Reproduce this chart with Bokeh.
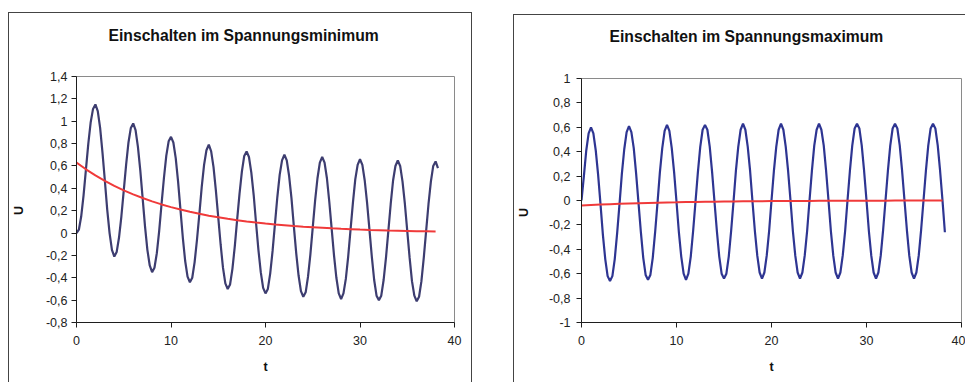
from bokeh.plotting import figure
from bokeh.layouts import row
from bokeh.models import Range1d, FixedTicker, CustomJSTickFormatter, Title
from bokeh.embed import file_html
from bokeh.resources import INLINE

# ---------------- data ----------------
title_min = "Einschalten im Spannungsminimum"
title_max = "Einschalten im Spannungsmaximum"
x_ticks = [0, 10, 20, 30, 40]
y_ticks_min = [-0.8, -0.6, -0.4, -0.2, 0, 0.2, 0.4, 0.6, 0.8, 1.0, 1.2, 1.4]
y_ticks_max = [-1.0, -0.8, -0.6, -0.4, -0.2, 0, 0.2, 0.4, 0.6, 0.8, 1.0]

# total current, switching at voltage minimum (sampled every 0.25 in t)
u_total_min = [
    0.00, 0.03, 0.15, 0.34, 0.57, 0.80, 0.99, 1.11, 1.15, 1.09, 0.94, 0.72, 0.47, 0.21, 0.00, -0.15,
    -0.21, -0.17, -0.04, 0.15, 0.38, 0.61, 0.81, 0.94, 0.98, 0.92, 0.77, 0.56, 0.31, 0.06, -0.15, -0.29,
    -0.35, -0.31, -0.18, 0.02, 0.26, 0.49, 0.69, 0.82, 0.86, 0.81, 0.67, 0.46, 0.21, -0.04, -0.25, -0.39,
    -0.44, -0.40, -0.26, -0.06, 0.17, 0.41, 0.61, 0.74, 0.79, 0.73, 0.59, 0.38, 0.14, -0.10, -0.31, -0.45,
    -0.50, -0.46, -0.32, -0.12, 0.12, 0.35, 0.55, 0.69, 0.73, 0.68, 0.54, 0.34, 0.09, -0.15, -0.35, -0.49,
    -0.54, -0.50, -0.36, -0.16, 0.08, 0.32, 0.52, 0.65, 0.70, 0.65, 0.51, 0.31, 0.06, -0.18, -0.38, -0.52,
    -0.57, -0.53, -0.39, -0.19, 0.05, 0.29, 0.49, 0.63, 0.68, 0.63, 0.49, 0.28, 0.04, -0.20, -0.40, -0.54,
    -0.59, -0.54, -0.41, -0.21, 0.03, 0.27, 0.48, 0.61, 0.66, 0.61, 0.47, 0.27, 0.03, -0.21, -0.42, -0.56,
    -0.60, -0.56, -0.42, -0.22, 0.02, 0.26, 0.47, 0.60, 0.65, 0.60, 0.46, 0.26, 0.02, -0.22, -0.43, -0.56,
    -0.61, -0.57, -0.43, -0.22, 0.02, 0.26, 0.46, 0.60, 0.64, 0.58,
]
# decaying DC component, switching at voltage minimum (sampled every 1 in t)
u_dc_min = [
    0.630, 0.570, 0.516, 0.467, 0.422, 0.382, 0.346, 0.313, 0.283, 0.256,
    0.232, 0.210, 0.190, 0.172, 0.155, 0.141, 0.127, 0.115, 0.104, 0.094,
    0.085, 0.077, 0.070, 0.063, 0.057, 0.052, 0.047, 0.042, 0.038, 0.035,
    0.031, 0.028, 0.026, 0.023, 0.021, 0.019, 0.017, 0.016, 0.014,
]

# total current, switching at voltage maximum (sampled every 0.25 in t)
u_total_max = [
    0.00, 0.20, 0.41, 0.55, 0.60, 0.55, 0.41, 0.21, -0.03, -0.28, -0.48, -0.62, -0.66, -0.62, -0.48, -0.27,
    -0.03, 0.22, 0.42, 0.56, 0.61, 0.56, 0.43, 0.22, -0.02, -0.26, -0.47, -0.61, -0.65, -0.61, -0.47, -0.26,
    -0.02, 0.23, 0.43, 0.57, 0.62, 0.57, 0.43, 0.23, -0.01, -0.26, -0.46, -0.60, -0.65, -0.60, -0.46, -0.25,
    -0.01, 0.23, 0.44, 0.58, 0.62, 0.58, 0.44, 0.23, -0.01, -0.25, -0.46, -0.60, -0.64, -0.60, -0.46, -0.25,
    -0.01, 0.24, 0.44, 0.58, 0.63, 0.58, 0.44, 0.24, -0.01, -0.25, -0.45, -0.59, -0.64, -0.59, -0.45, -0.25,
    0.00, 0.24, 0.44, 0.58, 0.63, 0.58, 0.44, 0.24, 0.00, -0.25, -0.45, -0.59, -0.64, -0.59, -0.45, -0.25,
    0.00, 0.24, 0.45, 0.58, 0.63, 0.58, 0.45, 0.24, 0.00, -0.25, -0.45, -0.59, -0.64, -0.59, -0.45, -0.25,
    0.00, 0.24, 0.45, 0.59, 0.63, 0.59, 0.45, 0.24, 0.00, -0.25, -0.45, -0.59, -0.64, -0.59, -0.45, -0.24,
    0.00, 0.24, 0.45, 0.59, 0.63, 0.59, 0.45, 0.24, 0.00, -0.24, -0.45, -0.59, -0.64, -0.59, -0.45, -0.24,
    0.00, 0.24, 0.45, 0.59, 0.63, 0.59, 0.45, 0.24, 0.00, -0.26,
]
# decaying DC component, switching at voltage maximum (sampled every 1 in t)
u_dc_max = [
    -0.040, -0.036, -0.033, -0.030, -0.027, -0.024, -0.022, -0.020, -0.018, -0.016,
    -0.015, -0.013, -0.012, -0.011, -0.010, -0.009, -0.008, -0.007, -0.007, -0.006,
    -0.005, -0.005, -0.004, -0.004, -0.004, -0.003, -0.003, -0.003, -0.002, -0.002,
    -0.002, -0.002, -0.002, -0.001, -0.001, -0.001, -0.001, -0.001, -0.001,
]

T_STEP_FINE = 0.25
T_STEP_DC = 1.0

# ---------------- styling ----------------
FONT = "Liberation Sans"
RED = "#f03a3a"
AXIS = "#1e1e1e"

fmt_code = """
var v = Math.round(tick * 10) / 10;
if (v === 0) { v = 0; }
return v.toString().replace('.', ',');
"""


def spacer_title(gap):
    return Title(text=" ", text_font=FONT, text_font_size="1px", standoff=gap)


def panel(title, total, dc, y0, y1, yticks, blue, width, height, ml, mr, mt, mb,
          title_dx, title_gap, u_offset, u_gap, styles, margin, y_standoff):
    t_fine = [i * T_STEP_FINE for i in range(len(total))]
    t_dc = [i * T_STEP_DC for i in range(len(dc))]
    p = figure(width=width, height=height,
               x_range=Range1d(0, 40), y_range=Range1d(y0, y1),
               output_backend="svg", toolbar_location=None,
               min_border_left=ml, min_border_right=mr,
               min_border_top=mt, min_border_bottom=mb,
               background_fill_color="white", border_fill_color="white",
               styles=styles, margin=margin)
    p.grid.visible = False
    p.outline_line_color = "#8a8a8a"
    p.outline_line_width = 1

    p.line(t_fine, total, line_color=blue, line_width=2.2)
    p.line(t_dc, dc, line_color=RED, line_width=2)

    for ax in (p.xaxis[0], p.yaxis[0]):
        ax.axis_line_color = AXIS
        ax.axis_line_width = 1
        ax.major_tick_line_color = AXIS
        ax.major_tick_out = 5
        ax.major_tick_in = 0
        ax.minor_tick_out = 0
        ax.minor_tick_in = 0
        ax.major_label_text_font = FONT
        ax.major_label_text_font_size = "12.5px"
        ax.major_label_text_color = "#222222"

    p.xaxis.ticker = FixedTicker(ticks=x_ticks, minor_ticks=[])
    p.yaxis.ticker = FixedTicker(ticks=yticks, minor_ticks=[])
    p.yaxis.formatter = CustomJSTickFormatter(code=fmt_code)
    p.xaxis.formatter = CustomJSTickFormatter(code=fmt_code)
    p.xaxis.major_label_standoff = 8
    p.yaxis.major_label_standoff = y_standoff

    p.xaxis.axis_label = "t"
    p.xaxis.axis_label_text_font = FONT
    p.xaxis.axis_label_text_font_size = "12.5px"
    p.xaxis.axis_label_text_font_style = "bold"
    p.xaxis.axis_label_text_color = "#111111"
    p.xaxis.axis_label_standoff = 12

    # real title (placed outermost); an empty spacer sits between it and the frame
    p.title.text = title
    p.title.text_font = FONT
    p.title.text_font_size = "15.7px"
    p.title.text_font_style = "bold"
    p.title.text_color = "#111111"
    p.title.align = "left"
    p.title.offset = title_dx
    p.title.vertical_align = "bottom"
    p.title.standoff = 0
    p.add_layout(spacer_title(title_gap), "above")

    p.add_layout(spacer_title(u_gap), "left")
    p.add_layout(Title(text="U", text_font=FONT, text_font_size="12.5px",
                       text_font_style="bold", text_color="#111111",
                       align="left", offset=u_offset, vertical_align="bottom",
                       standoff=0), "left")
    return p


BORDER = "1px solid #444444"

left = panel(title_min, u_total_min, u_dc_min, -0.8, 1.4, y_ticks_min, "#3d3d70",
             width=464, height=370, ml=66, mr=19, mt=63, mb=59,
             title_dx=32, title_gap=29.5, u_offset=107.5, u_gap=13.5,
             styles={"border-top": BORDER, "border-left": BORDER, "border-right": BORDER},
             margin=(12, 0, 0, 8), y_standoff=4)

right = panel(title_max, u_total_max, u_dc_max, -1.0, 1.0, y_ticks_max, "#2e3592",
              width=452, height=368, ml=66, mr=5, mt=63, mb=61,
              title_dx=28, title_gap=31, u_offset=105.5, u_gap=11.5,
              styles={"border-top": BORDER, "border-left": BORDER},
              margin=(14, 0, 0, 0), y_standoff=6)

layout = row(left, right, spacing=41)

open("out.html", "w").write(file_html(layout, INLINE))
